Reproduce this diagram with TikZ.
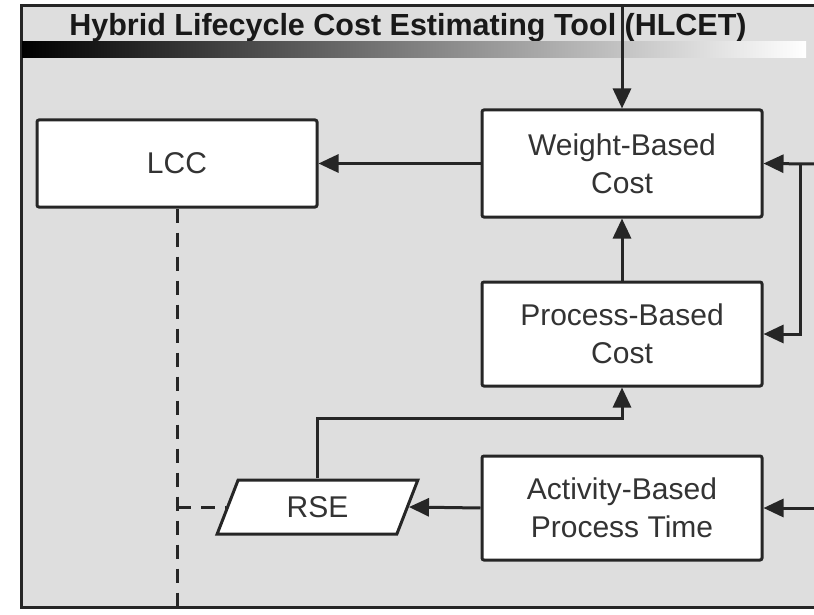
\documentclass[tikz,border=0pt]{standalone}
\usepackage{fontspec}
\setmainfont{Liberation Sans}
\usetikzlibrary{arrows.meta,shapes.geometric}
\definecolor{panelgray}{HTML}{DEDEDE}
\definecolor{linegray}{HTML}{262626}
\definecolor{textgray}{HTML}{333333}
\begin{document}
\begin{tikzpicture}[x=1pt,y=-1pt,
    box/.style={draw=linegray, line width=3pt, fill=white, rounded corners=2pt,
      minimum width=280pt, text=textgray, align=center, inner sep=0pt,
      font=\fontsize{30}{38}\selectfont},
    rsebox/.style={draw=linegray, line width=3pt, fill=white, trapezium,
      trapezium left angle=69, trapezium right angle=111, trapezium stretches=true,
      minimum width=201pt, minimum height=54pt, inner sep=0pt, text=textgray,
      font=\fontsize{30}{38}\selectfont},
    arr/.style={draw=linegray, line width=3pt, -{Triangle[length=20pt,width=18pt]}},
    link/.style={draw=linegray, line width=3pt, dash pattern=on 14pt off 10pt}]

  % Page and panel
  \clip (0,0) rectangle (814,615);
  \fill[white] (0,0) rectangle (814,615);
  \filldraw[fill=panelgray, draw=linegray, line width=3pt] (21,6) rectangle (840,607);

  % Title and shading bar
  \node[anchor=base, font=\bfseries\fontsize{30.5}{31}\selectfont, text=black!90] (title) at (408,36)
    {Hybrid Lifecycle Cost Estimating Tool (HLCET)};
  \shade[left color=black, right color=white] (22,42) rectangle (806,58);

  % Boxes
  \node[box, minimum height=87pt] (lcc) at (177,163.5) {LCC};
  \node[box, minimum height=107pt] (weight) at (622,163.5) {Weight-Based\\Cost};
  \node[box, minimum height=104pt] (process) at (622,334) {Process-Based\\Cost};
  \node[box, minimum height=104pt] (activity) at (622,508) {Activity-Based\\Process Time};
  \node[rsebox] (rse) at (317.5,507) {RSE};

  % Free ends
  \coordinate (topin) at (622,6);
  \coordinate (weightin) at (814,164);
  \coordinate (split) at (800,164);
  \coordinate (activityin) at (814,508);
  \coordinate (lccout) at (177,615);

  % Connectors
  \draw[arr] (topin) -- (weight.north);
  \draw[arr] (weight.west) -- (lcc.east);
  \draw[arr] (process.north) -- (weight.south);
  \draw[arr] (weightin) -- (weight.east);
  \draw[arr] (split) |- (process.east);
  \draw[arr] (activityin) -- (activity.east);
  \draw[arr] (activity.west) -- (rse.east);
  \draw[arr] (rse.north) -- ++(0,-60) -| (process.south);

  % Dashed links
  \draw[link] (lcc.south) -- (lccout);
  \draw[link] (rse.west -| lcc.south) -- (rse.west);
\end{tikzpicture}
\end{document}
